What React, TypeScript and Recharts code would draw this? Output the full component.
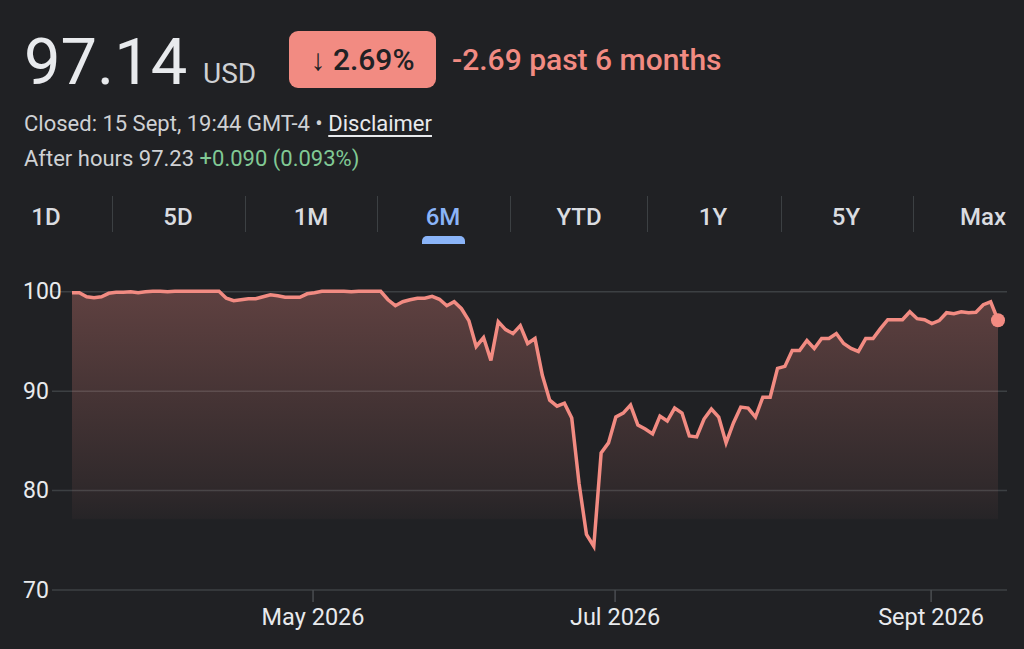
import { AreaChart, Area, XAxis, YAxis, CartesianGrid, ReferenceDot } from "recharts"

// closing prices, one per trading day (mid Mar -> 15 Sept 2026)
const prices = [
  99.9, 99.9, 99.5, 99.4, 99.5, 99.85, 99.95, 99.95, 100.0, 99.9, 100.0, 100.05,
  100.05, 100.0, 100.05, 100.05, 100.05, 100.05, 100.05, 100.05, 100.05,
  99.35, 99.1, 99.2, 99.3, 99.3, 99.5, 99.7, 99.6, 99.45, 99.45, 99.45, 99.8, 99.9, 100.05,
  100.05, 100.05, 100.05, 100.0, 100.05, 100.05, 100.05, 100.05,
  99.2, 98.6, 99.0, 99.2, 99.35, 99.35, 99.55, 99.25, 98.6, 99.0,
  98.3, 97.1, 94.5, 95.4, 93.1, 97.0, 96.2, 95.8, 96.6, 94.8,
  95.3, 91.6, 89.1, 88.5, 88.8, 87.3, 80.7, 75.6, 74.4, 83.8,
  84.8, 87.4, 87.8, 88.6, 86.6, 86.2, 85.7, 87.5, 87.0, 88.3,
  87.8, 85.5, 85.4, 87.2, 88.2, 87.4, 84.8, 86.8, 88.4, 88.3,
  87.4, 89.4, 89.4, 92.3, 92.5, 94.1, 94.1, 95.1, 94.3, 95.3,
  95.3, 95.8, 94.8, 94.3, 94.0, 95.3, 95.3, 96.3, 97.2, 97.2,
  97.2, 98.0, 97.3, 97.2, 96.8, 97.1, 97.9, 97.8, 98.0, 97.9,
  97.95, 98.7, 99.0, 97.14,
]

// month starts, as trading-day positions
const monthTicks = [32.8, 73.9, 116.9]
const monthLabels = ["May 2026", "Jul 2026", "Sept 2026"]
const priceTicks = [70, 80, 90, 100]

const ranges = ["1D", "5D", "1M", "6M", "YTD", "1Y", "5Y", "Max"]
const activeRange = "6M"

const chartData = prices.map((price, i) => ({ i, price }))

const font = "Roboto, 'Noto Sans', sans-serif"
const red = "#f28b82"
const text = "#e8eaed"
const muted = "#cfd1d4"

const tabCenters = [46, 178, 311, 443, 579, 713, 846, 983]
const tabSeparators = [112, 245, 377, 510, 647, 781, 913]

function PriceTick({ y, payload }: any) {
  return (
    <text x={23} y={y} dominantBaseline="central" fill={text} fontSize={23} fontFamily={font}>
      {payload.value}
    </text>
  )
}

function MonthTick({ x, y, payload }: any) {
  return (
    <text x={x} y={y} dy="0.71em" textAnchor="middle" fill={text} fontSize={23.5} fontFamily={font}>
      {monthLabels[monthTicks.indexOf(payload.value)]}
    </text>
  )
}

function Header() {
  const last = prices[prices.length - 1]
  return (
    <>
      <div style={{ position: "absolute", left: 24, top: 30, fontSize: 65, lineHeight: "64px", color: text }}>
        {last.toFixed(2)}
      </div>
      <div style={{ position: "absolute", left: 203, top: 60, fontSize: 28, lineHeight: "28px", color: muted }}>USD</div>
      <div
        style={{
          position: "absolute", left: 289, top: 31, width: 147, height: 57, borderRadius: 9, background: red,
          display: "flex", alignItems: "center", justifyContent: "center", color: "#202124", fontSize: 30, fontWeight: 500,
        }}
      >
        ↓&nbsp;2.69%
      </div>
      <div style={{ position: "absolute", left: 452, top: 45, fontSize: 30, lineHeight: "30px", color: red, fontWeight: 500 }}>
        -2.69 past 6 months
      </div>
      <div style={{ position: "absolute", left: 24, top: 113, fontSize: 22, lineHeight: "22px", color: muted, whiteSpace: "nowrap" }}>
        Closed: 15 Sept, 19:44 GMT-4 •{" "}
        <span style={{ color: text, textDecoration: "underline", textUnderlineOffset: 4 }}>Disclaimer</span>
      </div>
      <div style={{ position: "absolute", left: 24, top: 148, fontSize: 22, lineHeight: "22px", color: muted, whiteSpace: "nowrap" }}>
        After hours 97.23 <span style={{ color: "#81c995" }}>+0.090 (0.093%)</span>
      </div>
      {ranges.map((r, k) => (
        <div
          key={r}
          style={{
            position: "absolute", left: tabCenters[k] - 45, width: 90, top: 205, textAlign: "center",
            fontSize: 24, lineHeight: "24px", fontWeight: 500, color: r === activeRange ? "#8ab4f8" : "#dadce0",
          }}
        >
          {r}
        </div>
      ))}
      {tabSeparators.map((x) => (
        <div key={x} style={{ position: "absolute", left: x, top: 196, width: 1, height: 36, background: "#3c4043" }} />
      ))}
      <div
        style={{
          position: "absolute", left: tabCenters[ranges.indexOf(activeRange)] - 21, top: 236, width: 43, height: 8,
          background: "#8ab4f8", borderRadius: "5px 5px 0 0",
        }}
      />
    </>
  )
}

export default function App() {
  return (
    <div
      style={{
        position: "absolute", left: 0, top: 0, width: 1024, height: 649, background: "#202124",
        overflow: "hidden", fontFamily: font,
      }}
    >
      <Header />
      <div style={{ position: "absolute", left: 0, top: 250 }}>
        <AreaChart width={1024} height={399} data={chartData} margin={{ top: 12, right: 17, bottom: 0, left: 0 }}>
          <defs>
            <linearGradient id="fade" x1="0" y1="0" x2="0" y2="1">
              <stop offset="0" stopColor={red} stopOpacity={0.3} />
              <stop offset="0.35" stopColor={red} stopOpacity={0.18} />
              <stop offset="0.65" stopColor={red} stopOpacity={0.08} />
              <stop offset="0.76" stopColor={red} stopOpacity={0.03} />
              <stop offset="0.765" stopColor={red} stopOpacity={0} />
            </linearGradient>
          </defs>
          <CartesianGrid vertical={false} horizontalValues={priceTicks} stroke="#3c4043" strokeWidth={1.5} />
          <XAxis
            type="number"
            dataKey="i"
            domain={[0, prices.length - 1]}
            ticks={monthTicks}
            interval={0}
            padding={{ left: 20, right: 9 }}
            axisLine={false}
            tickLine={{ stroke: "#4a4d51", strokeWidth: 1.5 }}
            tickSize={12}
            tickMargin={6}
            height={59}
            tick={<MonthTick />}
          />
          <YAxis
            domain={[70, 103]}
            ticks={priceTicks}
            interval={0}
            axisLine={false}
            tickLine={false}
            width={52}
            tick={<PriceTick />}
          />
          <Area
            type="linear"
            dataKey="price"
            stroke={red}
            strokeWidth={3.5}
            strokeLinejoin="miter"
            fill="url(#fade)"
            fillOpacity={1}
            dot={false}
            activeDot={false}
            isAnimationActive={false}
          />
          <ReferenceDot x={prices.length - 1} y={prices[prices.length - 1]} r={7} fill={red} stroke="none" />
        </AreaChart>
      </div>
    </div>
  )
}
